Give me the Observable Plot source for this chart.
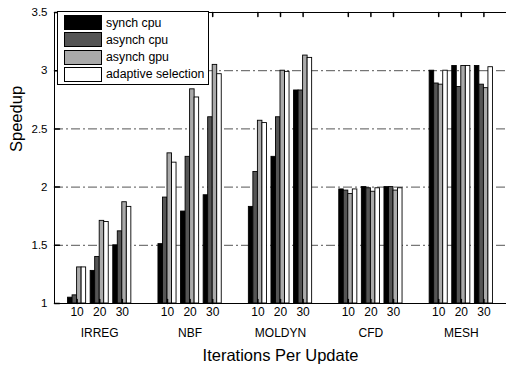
<!DOCTYPE html>
<html>
<head>
<meta charset="utf-8">
<script src="https://cdn.jsdelivr.net/npm/d3@7"></script>
<script src="https://cdn.jsdelivr.net/npm/@observablehq/plot@0.6"></script>
<style>
  body { margin: 0; background: #fff; font-family: "Liberation Sans", Arial, sans-serif; }
  #wrap { position: relative; width: 506px; height: 373px; overflow: hidden; }
  #legend { position: absolute; left: 57px; top: 11px; width: 150px; height: 72px; border: 1px solid #000; background: #fff; box-sizing: content-box; }
  .row { position: absolute; left: 6px; height: 15px; display: flex; align-items: center; }
  .sw { width: 36px; height: 13px; border: 1px solid #000; box-sizing: content-box; }
  .lb { margin-left: 4px; font-size: 12.3px; color: #000; white-space: nowrap; }
</style>
</head>
<body>
<div id="wrap"></div>
<script>
const groups = ["IRREG", "NBF", "MOLDYN", "CFD", "MESH"];
const iterations = ["10", "20", "30"];
const seriesNames = ["synch cpu", "asynch cpu", "asynch gpu", "adaptive selection"];
const seriesColors = ["#000000", "#555555", "#aaaaaa", "#ffffff"];
// values in group-major, iteration-minor order
const synchCpu  = [1.05, 1.28, 1.50, 1.51, 1.79, 1.93, 1.83, 2.26, 2.83, 1.98, 2.00, 2.00, 3.00, 3.04, 3.04];
const asynchCpu = [1.07, 1.40, 1.62, 1.91, 2.26, 2.60, 2.13, 2.60, 2.83, 1.97, 1.99, 2.00, 2.89, 2.86, 2.88];
const asynchGpu = [1.31, 1.71, 1.87, 2.29, 2.84, 3.05, 2.57, 3.00, 3.13, 1.94, 1.96, 1.97, 2.88, 3.04, 2.85];
const adaptive  = [1.31, 1.70, 1.83, 2.21, 2.77, 2.97, 2.55, 2.99, 3.11, 1.98, 1.99, 1.99, 3.00, 3.04, 3.03];
const yTicks = [1, 1.5, 2, 2.5, 3, 3.5];
const gridValues = [1.5, 2, 2.5, 3];

const seriesValues = [synchCpu, asynchCpu, asynchGpu, adaptive];
const slotsPerGroup = iterations.length + 1;
const barWidth = 0.8 / seriesNames.length;

const bars = [];
groups.forEach((g, gi) => iterations.forEach((it, ii) => seriesNames.forEach((s, si) => {
  const slot = gi * slotsPerGroup + ii;
  const x1 = slot - 0.4 + si * barWidth;
  bars.push({group: g, iter: it, series: s, x1, x2: x1 + barWidth, value: seriesValues[si][gi * iterations.length + ii]});
})));
const tickSlots = [];
groups.forEach((g, gi) => iterations.forEach((it, ii) => tickSlots.push({slot: gi * slotsPerGroup + ii, label: it})));
const groupLabels = groups.map((g, gi) => ({slot: gi * slotsPerGroup + 1, label: g}));

const tickShape = {draw(ctx, l) { ctx.moveTo(0, 0); ctx.lineTo(0, -l); }};
const font = "Liberation Sans, Arial, sans-serif";

const chart = Plot.plot({
  width: 506, height: 373,
  marginLeft: 54, marginRight: 0, marginTop: 12, marginBottom: 70,
  style: {fontFamily: font, background: "#fff", color: "#000"},
  x: {type: "linear", domain: [-1, groups.length * slotsPerGroup - 1], axis: null},
  y: {domain: [1, 3.5], axis: null},
  color: {domain: seriesNames, range: seriesColors},
  marks: [
    Plot.ruleY(gridValues, {y: d => d, stroke: "#555", strokeWidth: 1, strokeDasharray: "9,3,2,3"}),
    Plot.rect(bars, {x1: "x1", x2: "x2", y1: 1, y2: "value", fill: "series", stroke: "#000", strokeWidth: 0.9}),
    Plot.ruleY([1, 3.5], {y: d => d, stroke: "#000", strokeWidth: 1}),
    Plot.ruleX([-1], {x: d => d, stroke: "#000", strokeWidth: 1}),
    Plot.vector(yTicks, {y: d => d, frameAnchor: "left", rotate: 90, length: 5, anchor: "start", shape: tickShape, stroke: "#000"}),
    Plot.vector(tickSlots, {x: "slot", frameAnchor: "bottom", rotate: 0, length: 4, anchor: "start", shape: tickShape, stroke: "#000"}),
    Plot.vector(tickSlots, {x: "slot", frameAnchor: "top", rotate: 180, length: 4, anchor: "start", shape: tickShape, stroke: "#000"}),
    Plot.text(yTicks, {y: d => d, text: d => String(d), frameAnchor: "left", textAnchor: "end", dx: -7, fontSize: 11.5, fill: "#000"}),
    Plot.text(tickSlots, {x: "slot", text: "label", frameAnchor: "bottom", dy: 12, fontSize: 12, fill: "#000"}),
    Plot.text(groupLabels, {x: "slot", text: "label", frameAnchor: "bottom", dy: 33, fontSize: 12, fill: "#000"}),
    Plot.text(["Iterations Per Update"], {x: [9], frameAnchor: "bottom", dy: 57, fontSize: 16.5, fill: "#000"}),
    Plot.text(["Speedup"], {frameAnchor: "left", dx: -38, dy: -6, rotate: -90, fontSize: 16.5, fill: "#000"})
  ]
});

const wrap = document.getElementById("wrap");
wrap.appendChild(chart);

const legend = document.createElement("div");
legend.id = "legend";
seriesNames.forEach((s, i) => {
  const row = document.createElement("div");
  row.className = "row";
  row.style.top = (3 + i * 17.3) + "px";
  const sw = document.createElement("div");
  sw.className = "sw";
  sw.style.background = seriesColors[i];
  const lb = document.createElement("span");
  lb.className = "lb";
  lb.textContent = s;
  row.appendChild(sw);
  row.appendChild(lb);
  legend.appendChild(row);
});
wrap.appendChild(legend);
</script>
</body>
</html>
